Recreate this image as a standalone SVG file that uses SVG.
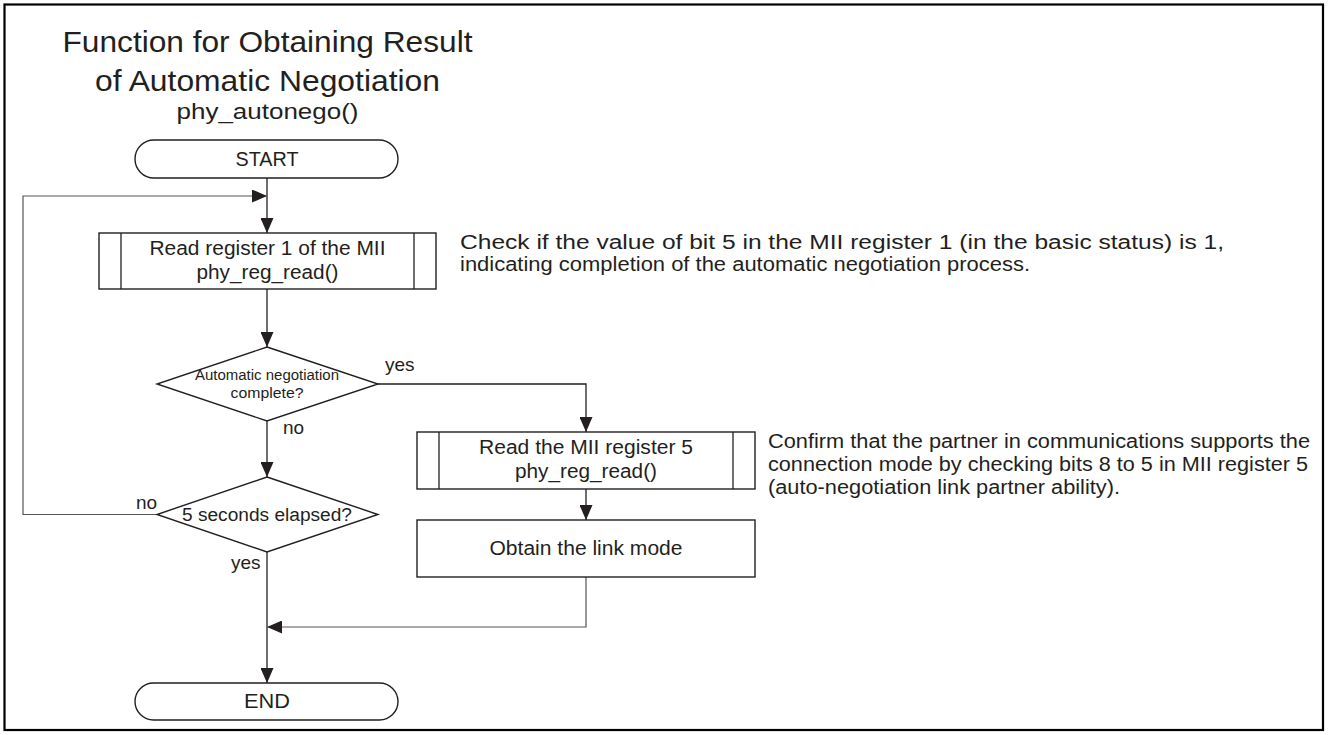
<svg xmlns="http://www.w3.org/2000/svg" width="1328" height="735" viewBox="0 0 1328 735">
<style>
text{font-family:"Liberation Sans",Arial,sans-serif;fill:#231f20}
.t{font-size:20px;text-anchor:middle}
.a{font-size:20px}
.l{font-size:19px}
.shape{fill:#fff;stroke:#231f20;stroke-width:1.4}
.c{fill:none;stroke:#231f20;stroke-width:1.3}
.g{fill:none;stroke:#555;stroke-width:1.2}
</style>
<defs>
<marker id="ah" markerUnits="userSpaceOnUse" markerWidth="15" markerHeight="13" refX="15" refY="6.5" orient="auto">
<path d="M0,0 L15,6.5 L0,13 Z" fill="#231f20"/>
</marker>
</defs>
<rect x="0" y="0" width="1328" height="735" fill="#fff"/>
<rect x="4.5" y="4.5" width="1318.5" height="725.5" fill="none" stroke="#000" stroke-width="2.2"/>
<g id="title">
<text x="267.5" y="52" font-size="30" text-anchor="middle" textLength="410" lengthAdjust="spacingAndGlyphs">Function for Obtaining Result</text>
<text x="267.5" y="91" font-size="30" text-anchor="middle" textLength="345" lengthAdjust="spacingAndGlyphs">of Automatic Negotiation</text>
<text x="267.5" y="119" font-size="22" text-anchor="middle" textLength="182" lengthAdjust="spacingAndGlyphs">phy_autonego()</text>
</g>
<g id="connectors">
<path class="c" d="M267,178 V233" marker-end="url(#ah)"/>
<path class="g" d="M157,514.5 H23 V196 H267" marker-end="url(#ah)"/>
<path class="c" d="M267,289 V347" marker-end="url(#ah)"/>
<path class="c" d="M378,384 H586 V432" marker-end="url(#ah)"/>
<path class="c" d="M267,421 V477" marker-end="url(#ah)"/>
<path class="c" d="M267,552 V683" marker-end="url(#ah)"/>
<path class="c" d="M586,489 V520" marker-end="url(#ah)"/>
<path class="g" d="M586,577 V627 H267" marker-end="url(#ah)"/>
<text class="l" x="385" y="371">yes</text>
<text class="l" x="283" y="434">no</text>
<text class="l" x="136" y="509">no</text>
<text class="l" x="231" y="569">yes</text>
</g>
<g id="start">
<rect class="shape" x="135" y="140" width="263" height="38" rx="19"/>
<text class="t" x="267" y="166" textLength="63" lengthAdjust="spacingAndGlyphs">START</text>
</g>
<g id="read1">
<rect class="shape" x="99" y="233" width="337" height="56"/>
<line class="c" x1="121" y1="233" x2="121" y2="289"/>
<line class="c" x1="414" y1="233" x2="414" y2="289"/>
<text class="t" x="267.5" y="255" textLength="236" lengthAdjust="spacingAndGlyphs">Read register 1 of the MII</text>
<text class="t" x="267.5" y="279" textLength="142" lengthAdjust="spacingAndGlyphs">phy_reg_read()</text>
</g>
<g id="note1">
<text class="a" x="460" y="249" textLength="764" lengthAdjust="spacingAndGlyphs">Check if the value of bit 5 in the MII register 1 (in the basic status) is 1,</text>
<text class="a" x="460" y="271" textLength="570" lengthAdjust="spacingAndGlyphs">indicating completion of the automatic negotiation process.</text>
</g>
<g id="decision1">
<polygon class="shape" points="267,347 378,384 267,421 157,384"/>
<text x="267" y="380" font-size="14" text-anchor="middle" textLength="144" lengthAdjust="spacingAndGlyphs">Automatic negotiation</text>
<text x="267" y="398" font-size="14" text-anchor="middle" textLength="73" lengthAdjust="spacingAndGlyphs">complete?</text>
</g>
<g id="decision2">
<polygon class="shape" points="267,477 378,514.5 267,552 157,514.5"/>
<text x="267" y="521" font-size="18" text-anchor="middle" textLength="170" lengthAdjust="spacingAndGlyphs">5 seconds elapsed?</text>
</g>
<g id="read5">
<rect class="shape" x="417" y="432" width="338" height="57"/>
<line class="c" x1="439" y1="432" x2="439" y2="489"/>
<line class="c" x1="733" y1="432" x2="733" y2="489"/>
<text class="t" x="586" y="454" textLength="214" lengthAdjust="spacingAndGlyphs">Read the MII register 5</text>
<text class="t" x="586" y="478" textLength="142" lengthAdjust="spacingAndGlyphs">phy_reg_read()</text>
</g>
<g id="note2">
<text class="a" x="768" y="448" textLength="542" lengthAdjust="spacingAndGlyphs">Confirm that the partner in communications supports the</text>
<text class="a" x="768" y="471" textLength="540" lengthAdjust="spacingAndGlyphs">connection mode by checking bits 8 to 5 in MII register 5</text>
<text class="a" x="768" y="494" textLength="352" lengthAdjust="spacingAndGlyphs">(auto-negotiation link partner ability).</text>
</g>
<g id="obtain">
<rect class="shape" x="417" y="520" width="338" height="57"/>
<text class="t" x="586" y="555" textLength="193" lengthAdjust="spacingAndGlyphs">Obtain the link mode</text>
</g>
<g id="end">
<rect class="shape" x="135" y="683" width="263" height="37" rx="18.5"/>
<text class="t" x="267" y="708" textLength="46" lengthAdjust="spacingAndGlyphs">END</text>
</g>
</svg>
